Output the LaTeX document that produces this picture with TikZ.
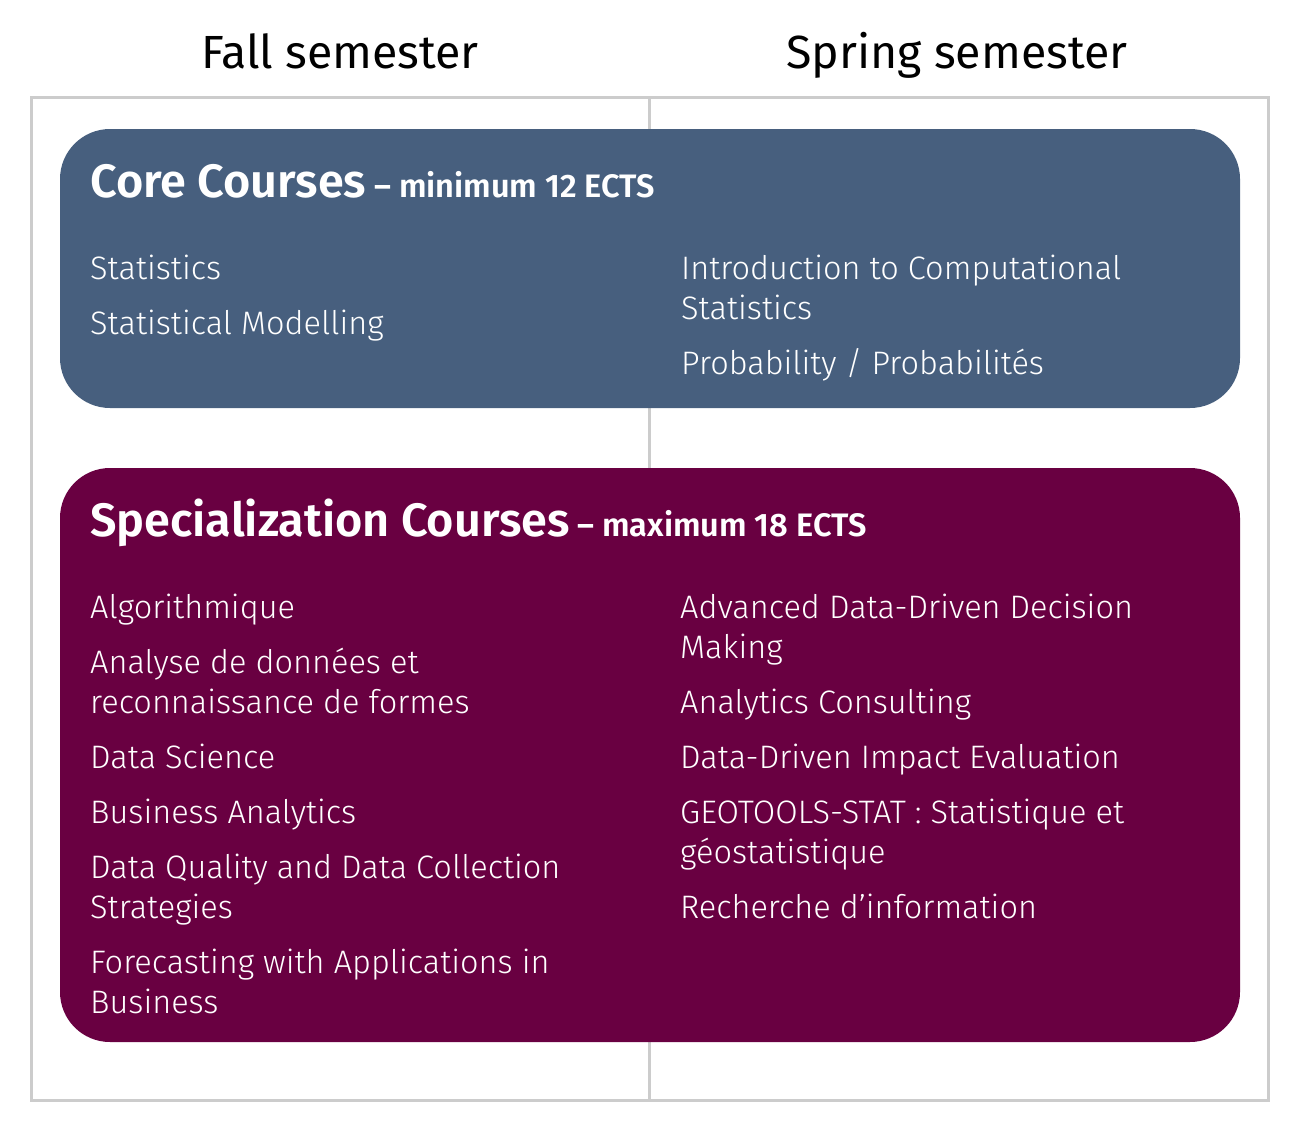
\documentclass[tikz,border=0pt]{standalone}
\usepackage{fontspec}
\setmainfont{Fira Sans Light}[BoldFont={Fira Sans SemiBold}]
\newfontfamily\headfont{Fira Sans}
\definecolor{coreblue}{HTML}{475F7E}
\definecolor{specred}{HTML}{690041}
\definecolor{framegray}{HTML}{CCCCCC}
\tikzset{
  head/.style={anchor=base, font=\headfont\fontsize{46.5}{50}\selectfont, text=black, inner sep=0pt},
  panel/.style={fill=#1, rounded corners=50pt, draw=none},
  title/.style={anchor=base west, text=white, inner sep=0pt, font=\bfseries\fontsize{46.8}{50}\selectfont},
  item/.style={anchor=base west, text=white, inner sep=0pt, align=left, font=\fontsize{32.5}{40}\selectfont},
}
\newcommand{\subttl}[1]{{\fontsize{32.5}{34}\selectfont #1}}
\begin{document}
\begin{tikzpicture}[x=1pt,y=-1pt]
\useasboundingbox (0,0) rectangle (1299,1143);
% frame
\draw[framegray, line width=3pt] (31,97) rectangle (1268,1100);
\draw[framegray, line width=3pt] (649,97) -- (649,1100);
% headers
\node[head] (fall) at (340,68) {Fall semester};
\node[head] (spring) at (957,68) {Spring semester};
% panels
\path[panel=coreblue] (60,129) rectangle (1240,408);
\path[panel=specred] (60,468) rectangle (1240,1042);
% core (two-line items: base anchor is on the last line)
\node[title] (coret) at (90,197) {Core Courses\subttl{ – minimum 12 ECTS}};
\node[item] (c1) at (90,279) {Statistics};
\node[item] (c2) at (90,334) {Statistical Modelling};
\node[item] (c3) at (681,319) {Introduction to Computational\\Statistics};
\node[item] (c4) at (681,374) {Probability / Probabilités};
% specialization
\node[title] (spect) at (90,536) {Specialization Courses\subttl{ – maximum 18 ECTS}};
\node[item] (s1) at (90,618) {Algorithmique};
\node[item] (s2) at (90,713) {Analyse de données et\\reconnaissance de formes};
\node[item] (s3) at (90,768) {Data Science};
\node[item] (s4) at (90,823) {Business Analytics};
\node[item] (s5) at (90,918) {Data Quality and Data Collection\\Strategies};
\node[item] (s6) at (90,1013) {Forecasting with Applications in\\Business};
\node[item] (r1) at (680,658) {Advanced Data-Driven Decision\\Making};
\node[item] (r2) at (680,713) {Analytics Consulting};
\node[item] (r3) at (680,768) {Data-Driven Impact Evaluation};
\node[item] (r4) at (680,863) {GEOTOOLS-STAT : Statistique et\\géostatistique};
\node[item] (r5) at (680,918) {Recherche d’information};
\end{tikzpicture}
\end{document}
